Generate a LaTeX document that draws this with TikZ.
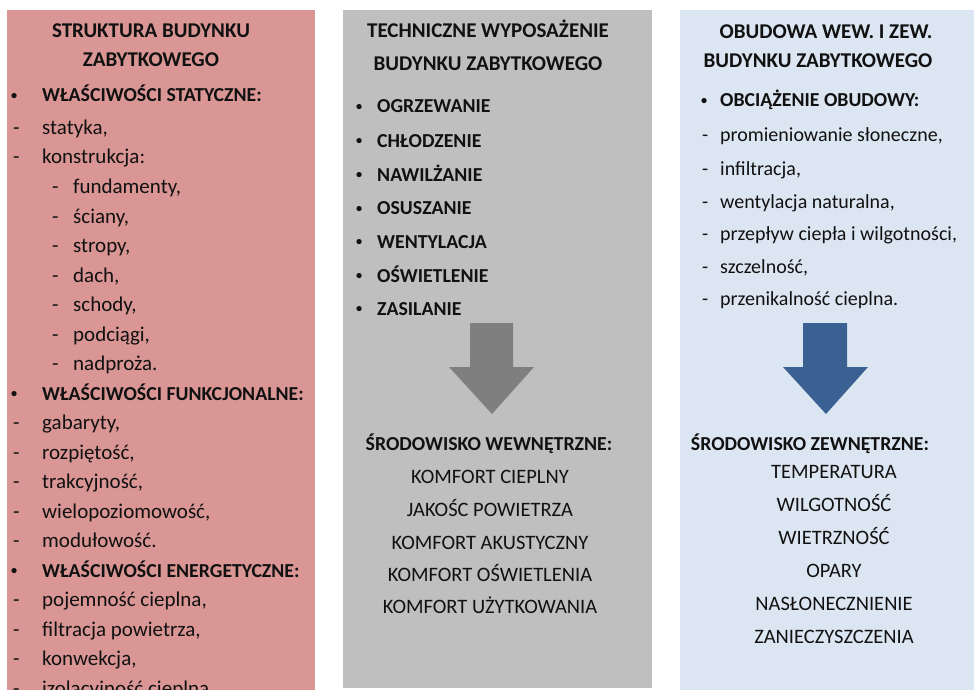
\documentclass[tikz,border=0pt]{standalone}
\usepackage{fontspec}
\usepackage{graphicx}
\setmainfont{Carlito}
\definecolor{redbg}{HTML}{D99694}
\definecolor{graybg}{HTML}{BFBFBF}
\definecolor{bluebg}{HTML}{DCE6F2}
\definecolor{grayarrow}{HTML}{7F7F7F}
\definecolor{bluearrow}{HTML}{3A6191}
\definecolor{ink}{HTML}{111111}
\tikzset{
  txt/.style={inner sep=0pt, anchor=base west, text=ink, font=\fontsize{21}{25}\selectfont},
  btxt/.style={txt, font=\fontsize{19.8}{24}\selectfont\bfseries},
  ttxt/.style={txt, anchor=base, font=\fontsize{21}{25}\selectfont\bfseries},
  ctxt/.style={txt, anchor=base, font=\fontsize{20.5}{25}\selectfont},
  cbtxt/.style={btxt, anchor=base},
  btext/.style={txt, font=\fontsize{20}{24}\selectfont},
}
\newcommand{\dsh}[1]{\makebox[#1][l]{-}}
\newcommand{\bul}[1]{\makebox[#1][l]{\raisebox{0.12em}{\scalebox{0.62}{\textbullet}}}}
\begin{document}
\begin{tikzpicture}[x=1pt,y=-1pt]
\clip (0,0) rectangle (974,690);
\fill[white] (0,0) rectangle (974,690);
% panels
\fill[redbg]  (7,10) rectangle (315,700);
\fill[graybg] (343,10) rectangle (652,688);
\fill[bluebg] (680,10) rectangle (974,690);

% ---------- red column ----------
\node[ttxt] (rt1) at (151,38) {STRUKTURA BUDYNKU};
\node[ttxt] (rt2) at (151,67) {ZABYTKOWEGO};
\node[btxt] (rh1) at (11,102) {\bul{31pt}WŁAŚCIWOŚCI STATYCZNE:};
\node[txt] (r0) at (13,134.5) {\dsh{29pt}statyka,};
\node[txt] (r1) at (13,164) {\dsh{29pt}konstrukcja:};
\node[txt] (r2) at (52,193.5) {\dsh{21pt}fundamenty,};
\node[txt] (r3) at (52,223) {\dsh{21pt}ściany,};
\node[txt] (r4) at (52,252.5) {\dsh{21pt}stropy,};
\node[txt] (r5) at (52,282) {\dsh{21pt}dach,};
\node[txt] (r6) at (52,311.5) {\dsh{21pt}schody,};
\node[txt] (r7) at (52,341) {\dsh{21pt}podciągi,};
\node[txt] (r8) at (52,370.5) {\dsh{21pt}nadproża.};
\node[btxt] (rh2) at (11,400) {\bul{31pt}WŁAŚCIWOŚCI FUNKCJONALNE:};
\node[txt] (r10) at (13,429.5) {\dsh{29pt}gabaryty,};
\node[txt] (r11) at (13,459) {\dsh{29pt}rozpiętość,};
\node[txt] (r12) at (13,488.5) {\dsh{29pt}trakcyjność,};
\node[txt] (r13) at (13,518) {\dsh{29pt}wielopoziomowość,};
\node[txt] (r14) at (13,547.5) {\dsh{29pt}modułowość.};
\node[btxt] (rh3) at (11,577) {\bul{31pt}WŁAŚCIWOŚCI ENERGETYCZNE:};
\node[txt] (r16) at (13,606.5) {\dsh{29pt}pojemność cieplna,};
\node[txt] (r17) at (13,636) {\dsh{29pt}filtracja powietrza,};
\node[txt] (r18) at (13,665.5) {\dsh{29pt}konwekcja,};
\node[txt] (r19) at (13,695) {\dsh{29pt}izolacyjność cieplna};

% ---------- gray column ----------
\node[ttxt] (gt1) at (488,38) {TECHNICZNE WYPOSAŻENIE};
\node[ttxt] (gt2) at (488,71) {BUDYNKU ZABYTKOWEGO};
\node[btxt] (g1) at (356,113) {\bul{21pt}OGRZEWANIE};
\node[btxt] (g2) at (356,147) {\bul{21pt}CHŁODZENIE};
\node[btxt] (g3) at (356,181) {\bul{21pt}NAWILŻANIE};
\node[btxt] (g4) at (356,214.5) {\bul{21pt}OSUSZANIE};
\node[btxt] (g5) at (356,248) {\bul{21pt}WENTYLACJA};
\node[btxt] (g6) at (356,282) {\bul{21pt}OŚWIETLENIE};
\node[btxt] (g7) at (356,315) {\bul{21pt}ZASILANIE};
\fill[grayarrow] (470,323) -- (513,323) -- (513,367) -- (534,367) -- (492,414) -- (449,367) -- (470,367) -- cycle;
\node[cbtxt] (gs) at (489,450) {ŚRODOWISKO WEWNĘTRZNE:};
\node[ctxt] (gk1) at (490,483) {KOMFORT CIEPLNY};
\node[ctxt] (gk2) at (490,516) {JAKOŚC POWIETRZA};
\node[ctxt] (gk3) at (490,549) {KOMFORT AKUSTYCZNY};
\node[ctxt] (gk4) at (490,581) {KOMFORT OŚWIETLENIA};
\node[ctxt] (gk5) at (490,613) {KOMFORT UŻYTKOWANIA};

% ---------- blue column ----------
\node[ttxt] (bt1) at (826,39) {OBUDOWA WEW. I ZEW.};
\node[ttxt] (bt2) at (818,68) {BUDYNKU ZABYTKOWEGO};
\node[btxt] (bh) at (701,107) {\bul{19pt}OBCIĄŻENIE OBUDOWY:};
\node[btext] (b1) at (702,142) {\dsh{18pt}promieniowanie słoneczne,};
\node[btext] (b2) at (702,175) {\dsh{18pt}infiltracja,};
\node[btext] (b3) at (702,208) {\dsh{18pt}wentylacja naturalna,};
\node[btext] (b4) at (702,240) {\dsh{18pt}przepływ ciepła i wilgotności,};
\node[btext] (b5) at (702,273) {\dsh{18pt}szczelność,};
\node[btext] (b6) at (702,305) {\dsh{18pt}przenikalność cieplna.};
\fill[bluearrow] (803,323) -- (847,323) -- (847,367) -- (868,367) -- (826,414) -- (783,367) -- (803,367) -- cycle;
\node[cbtxt] (bs) at (810,450) {ŚRODOWISKO ZEWNĘTRZNE:};
\node[ctxt] (bz1) at (834,478) {TEMPERATURA};
\node[ctxt] (bz2) at (834,511) {WILGOTNOŚĆ};
\node[ctxt] (bz3) at (834,544) {WIETRZNOŚĆ};
\node[ctxt] (bz4) at (834,577) {OPARY};
\node[ctxt] (bz5) at (834,610) {NASŁONECZNIENIE};
\node[ctxt] (bz6) at (834,643) {ZANIECZYSZCZENIA};
\end{tikzpicture}
\end{document}
